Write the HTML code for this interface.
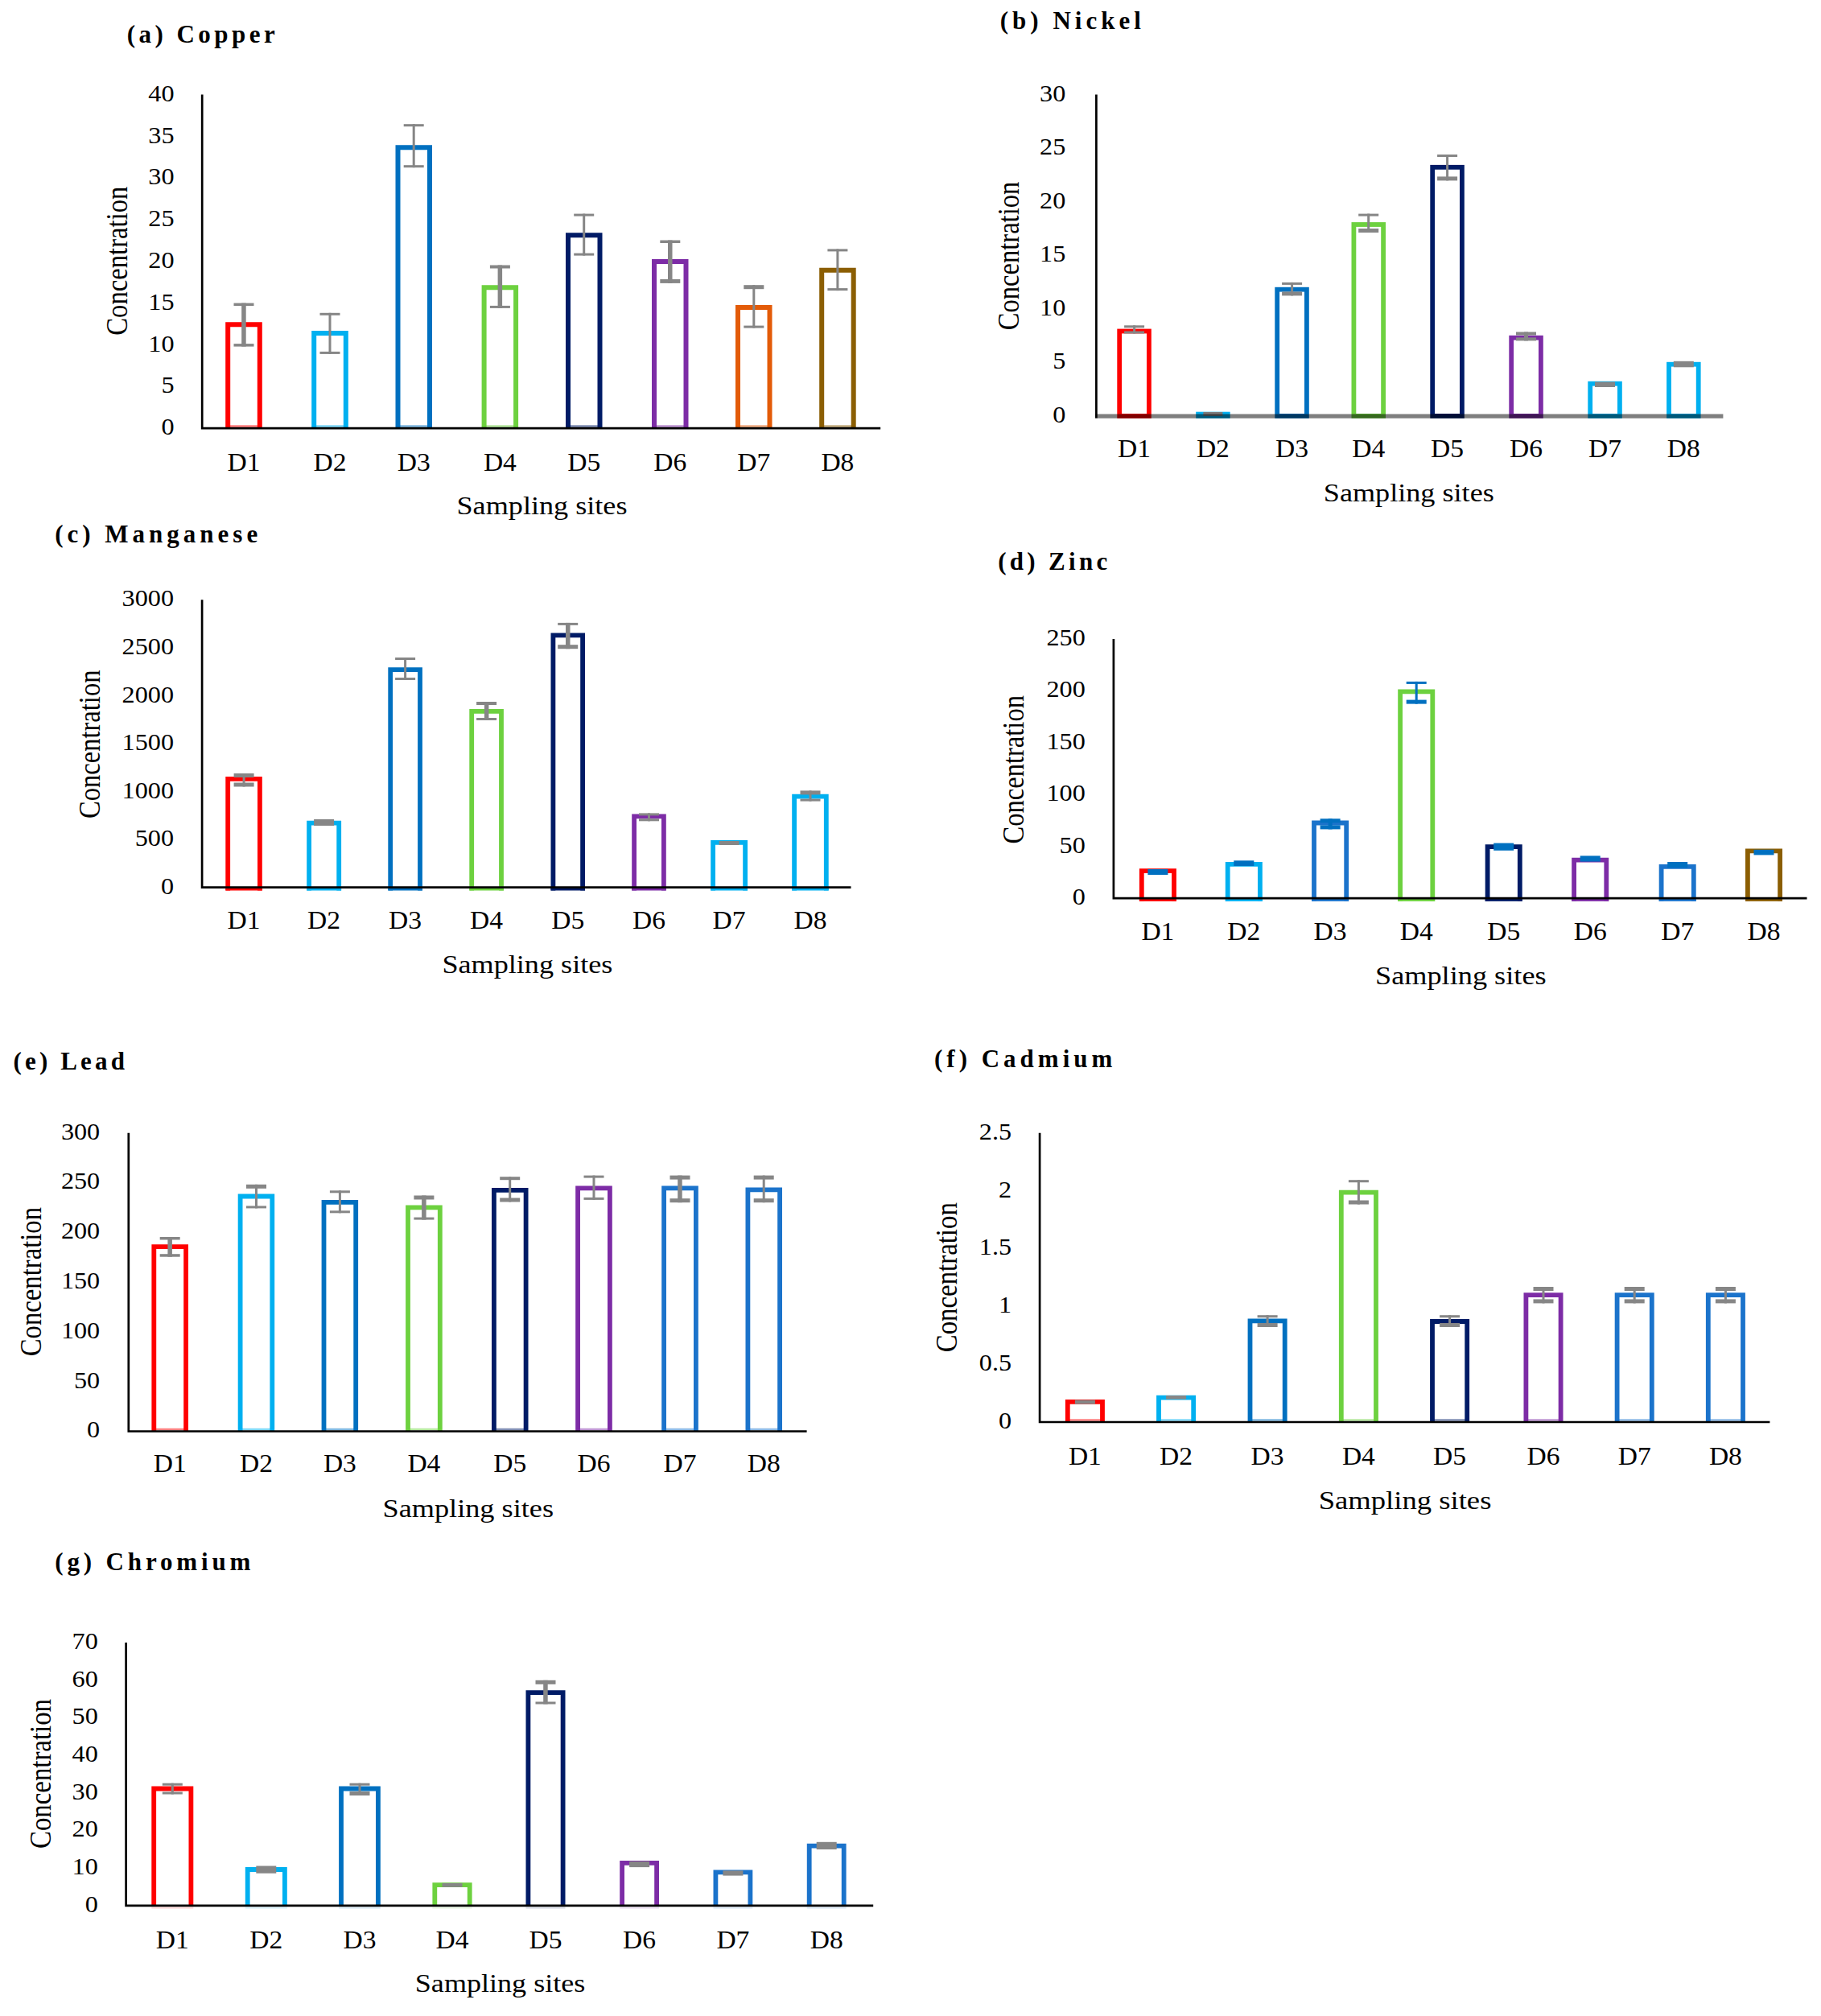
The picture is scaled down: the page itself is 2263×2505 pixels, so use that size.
<!DOCTYPE html>
<html lang="en"><head><meta charset="utf-8"><title>Heavy metal concentration at sampling sites</title>
<style>html,body{margin:0;padding:0;background:#fff}body{width:2263px;height:2505px;overflow:hidden}svg{display:block}text{font-family:"Liberation Serif","DejaVu Serif",serif;fill:#000}.t{font-weight:bold;font-size:31px}.k{font-size:28.5px;text-anchor:end}.K{font-size:30px}.x{font-size:31px;text-anchor:middle}.a{font-size:31px}.r{font-size:37px}</style></head><body>
<svg width="2263" height="2505" viewBox="0 0 2263 2505">
<rect width="2263" height="2505" fill="#fff"/>
<g>
<text class="t" x="157.7" y="53.4" textLength="184" lengthAdjust="spacing">(a) Copper</text>
<path d="M283.2 532.1V403.3H322.8V532.1" fill="none" stroke="#FF0000" stroke-width="6"/>
<line x1="283.2" y1="529.6" x2="322.8" y2="529.6" stroke="#FF0000" stroke-opacity="0.5" stroke-width="2.6"/>
<path d="M390.2 532.1V413.9H429.8V532.1" fill="none" stroke="#00B0F0" stroke-width="6"/>
<line x1="390.2" y1="529.6" x2="429.8" y2="529.6" stroke="#00B0F0" stroke-opacity="0.5" stroke-width="2.6"/>
<path d="M494.5 532.1V183.2H534V532.1" fill="none" stroke="#0070C0" stroke-width="6"/>
<line x1="494.5" y1="529.6" x2="534" y2="529.6" stroke="#0070C0" stroke-opacity="0.5" stroke-width="2.6"/>
<path d="M601.6 532.1V357.2H641.1V532.1" fill="none" stroke="#6DD13F" stroke-width="6"/>
<line x1="601.6" y1="529.6" x2="641.1" y2="529.6" stroke="#6DD13F" stroke-opacity="0.5" stroke-width="2.6"/>
<path d="M706 532.1V292.3H745.5V532.1" fill="none" stroke="#001B66" stroke-width="6"/>
<line x1="706" y1="529.6" x2="745.5" y2="529.6" stroke="#001B66" stroke-opacity="0.5" stroke-width="2.6"/>
<path d="M813 532.1V324.9H852.5V532.1" fill="none" stroke="#7D2CA6" stroke-width="6"/>
<line x1="813" y1="529.6" x2="852.5" y2="529.6" stroke="#7D2CA6" stroke-opacity="0.5" stroke-width="2.6"/>
<path d="M917 532.1V381.9H956.5V532.1" fill="none" stroke="#E35B08" stroke-width="6"/>
<line x1="917" y1="529.6" x2="956.5" y2="529.6" stroke="#E35B08" stroke-opacity="0.5" stroke-width="2.6"/>
<path d="M1021.2 532.1V335.8H1060.7V532.1" fill="none" stroke="#8B5E03" stroke-width="6"/>
<line x1="1021.2" y1="529.6" x2="1060.7" y2="529.6" stroke="#8B5E03" stroke-opacity="0.5" stroke-width="2.6"/>
<path d="M251.2 117.6V532.1H1094.2" fill="none" stroke="#000" stroke-width="2.7"/>
<rect x="300.2" y="376.6" width="5.5" height="54" fill="#868686"/>
<rect x="290.5" y="376.6" width="25" height="3.5" fill="#868686"/>
<rect x="290.5" y="427.1" width="25" height="3.5" fill="#868686"/>
<rect x="408.5" y="388.8" width="3" height="51.1" fill="#868686"/>
<rect x="397.5" y="388.8" width="25" height="3" fill="#868686"/>
<rect x="397.5" y="436.9" width="25" height="3" fill="#868686"/>
<rect x="512.7" y="154.2" width="3" height="54" fill="#868686"/>
<rect x="501.7" y="154.2" width="25" height="3" fill="#868686"/>
<rect x="501.7" y="205.2" width="25" height="3" fill="#868686"/>
<rect x="618.6" y="329.5" width="5.5" height="53.4" fill="#868686"/>
<rect x="608.9" y="329.5" width="25" height="4" fill="#868686"/>
<rect x="608.9" y="379.9" width="25" height="3" fill="#868686"/>
<rect x="724.2" y="265.6" width="3" height="52" fill="#868686"/>
<rect x="713.2" y="265.6" width="25" height="3" fill="#868686"/>
<rect x="713.2" y="314.6" width="25" height="3" fill="#868686"/>
<rect x="830" y="298.5" width="5.5" height="53.4" fill="#868686"/>
<rect x="820.3" y="298.5" width="25" height="3.5" fill="#868686"/>
<rect x="820.3" y="346.9" width="25" height="5" fill="#868686"/>
<rect x="935.3" y="354.2" width="3" height="53.4" fill="#868686"/>
<rect x="924.3" y="354.2" width="25" height="5" fill="#868686"/>
<rect x="924.3" y="404.6" width="25" height="3" fill="#868686"/>
<rect x="1039.4" y="309.4" width="3" height="51.7" fill="#868686"/>
<rect x="1028.4" y="309.4" width="25" height="3" fill="#868686"/>
<rect x="1028.4" y="358.1" width="25" height="3" fill="#868686"/>
<text class="k" x="216.5" y="540.2" textLength="16.1" lengthAdjust="spacingAndGlyphs">0</text>
<text class="k" x="216.5" y="488.4" textLength="16.1" lengthAdjust="spacingAndGlyphs">5</text>
<text class="k" x="216.5" y="436.6" textLength="32.2" lengthAdjust="spacingAndGlyphs">10</text>
<text class="k" x="216.5" y="384.8" textLength="32.2" lengthAdjust="spacingAndGlyphs">15</text>
<text class="k" x="216.5" y="333" textLength="32.2" lengthAdjust="spacingAndGlyphs">20</text>
<text class="k" x="216.5" y="281.1" textLength="32.2" lengthAdjust="spacingAndGlyphs">25</text>
<text class="k" x="216.5" y="229.3" textLength="32.2" lengthAdjust="spacingAndGlyphs">30</text>
<text class="k" x="216.5" y="177.5" textLength="32.2" lengthAdjust="spacingAndGlyphs">35</text>
<text class="k" x="216.5" y="125.7" textLength="32.2" lengthAdjust="spacingAndGlyphs">40</text>
<text class="x" x="303" y="584.8" textLength="41" lengthAdjust="spacingAndGlyphs">D1</text>
<text class="x" x="410" y="584.8" textLength="41" lengthAdjust="spacingAndGlyphs">D2</text>
<text class="x" x="514.2" y="584.8" textLength="41" lengthAdjust="spacingAndGlyphs">D3</text>
<text class="x" x="621.4" y="584.8" textLength="41" lengthAdjust="spacingAndGlyphs">D4</text>
<text class="x" x="725.7" y="584.8" textLength="41" lengthAdjust="spacingAndGlyphs">D5</text>
<text class="x" x="832.8" y="584.8" textLength="41" lengthAdjust="spacingAndGlyphs">D6</text>
<text class="x" x="936.8" y="584.8" textLength="41" lengthAdjust="spacingAndGlyphs">D7</text>
<text class="x" x="1040.9" y="584.8" textLength="41" lengthAdjust="spacingAndGlyphs">D8</text>
<text class="a" x="567.5" y="638.8" textLength="212" lengthAdjust="spacingAndGlyphs">Sampling sites</text>
<text class="r" text-anchor="middle" transform="translate(158 324.2) rotate(-90)" x="0" y="0" textLength="185" lengthAdjust="spacingAndGlyphs">Concentration</text>
</g>
<g>
<text class="t" x="1242.8" y="36.2" textLength="175" lengthAdjust="spacing">(b) Nickel</text>
<line x1="1362.4" y1="117.6" x2="1362.4" y2="519.6" stroke="#000" stroke-width="2.7"/>
<rect x="1391.2" y="411.5" width="36.7" height="105.4" fill="none" stroke="#FF0000" stroke-width="5.8"/>
<rect x="1489.1" y="514.6" width="36.7" height="2.3" fill="none" stroke="#00B0F0" stroke-width="5.8"/>
<rect x="1587.2" y="359.7" width="36.7" height="157.2" fill="none" stroke="#0070C0" stroke-width="5.8"/>
<rect x="1682.4" y="279" width="36.7" height="237.9" fill="none" stroke="#6DD13F" stroke-width="5.8"/>
<rect x="1780.2" y="207.8" width="36.7" height="309.1" fill="none" stroke="#001B66" stroke-width="5.8"/>
<rect x="1878.2" y="419.7" width="36.7" height="97.2" fill="none" stroke="#7D2CA6" stroke-width="5.8"/>
<rect x="1976.2" y="476.7" width="36.7" height="40.2" fill="none" stroke="#00B0F0" stroke-width="5.8"/>
<rect x="2074" y="452.7" width="36.7" height="64.2" fill="none" stroke="#00B0F0" stroke-width="5.8"/>
<rect x="1408.1" y="404.3" width="3" height="10.2" fill="#868686"/>
<rect x="1397.1" y="404.3" width="25" height="3" fill="#868686"/>
<rect x="1397.1" y="411.5" width="25" height="3" fill="#868686"/>
<rect x="1495.4" y="512" width="24" height="4.8" fill="#7a7a7a"/>
<rect x="1604.1" y="350.9" width="3" height="16.5" fill="#868686"/>
<rect x="1593.1" y="350.9" width="25" height="3" fill="#868686"/>
<rect x="1593.1" y="362.4" width="25" height="5" fill="#868686"/>
<rect x="1699.2" y="265.6" width="3" height="23.4" fill="#868686"/>
<rect x="1688.2" y="265.6" width="25" height="3" fill="#868686"/>
<rect x="1688.2" y="284" width="25" height="5" fill="#868686"/>
<rect x="1797.1" y="192" width="3" height="32.4" fill="#868686"/>
<rect x="1786.1" y="192" width="25" height="3" fill="#868686"/>
<rect x="1786.1" y="219.4" width="25" height="5" fill="#868686"/>
<rect x="1894" y="412.5" width="5" height="10.9" fill="#868686"/>
<rect x="1884" y="412.5" width="25" height="4" fill="#868686"/>
<rect x="1884" y="419.4" width="25" height="4" fill="#868686"/>
<rect x="1982" y="474.5" width="25" height="6.5" fill="#868686"/>
<rect x="2079.8" y="448.8" width="25" height="7.5" fill="#868686"/>
<line x1="1361.1" y1="517.2" x2="2141.4" y2="517.2" stroke="#000" stroke-opacity="0.5" stroke-width="5.3"/>
<text class="k" x="1324.3" y="524.7" textLength="16.1" lengthAdjust="spacingAndGlyphs">0</text>
<text class="k" x="1324.3" y="458.2" textLength="16.1" lengthAdjust="spacingAndGlyphs">5</text>
<text class="k" x="1324.3" y="391.7" textLength="32.2" lengthAdjust="spacingAndGlyphs">10</text>
<text class="k" x="1324.3" y="325.2" textLength="32.2" lengthAdjust="spacingAndGlyphs">15</text>
<text class="k" x="1324.3" y="258.7" textLength="32.2" lengthAdjust="spacingAndGlyphs">20</text>
<text class="k" x="1324.3" y="192.2" textLength="32.2" lengthAdjust="spacingAndGlyphs">25</text>
<text class="k" x="1324.3" y="125.7" textLength="32.2" lengthAdjust="spacingAndGlyphs">30</text>
<text class="x" x="1409.6" y="568.4" textLength="41" lengthAdjust="spacingAndGlyphs">D1</text>
<text class="x" x="1507.4" y="568.4" textLength="41" lengthAdjust="spacingAndGlyphs">D2</text>
<text class="x" x="1605.6" y="568.4" textLength="41" lengthAdjust="spacingAndGlyphs">D3</text>
<text class="x" x="1700.7" y="568.4" textLength="41" lengthAdjust="spacingAndGlyphs">D4</text>
<text class="x" x="1798.6" y="568.4" textLength="41" lengthAdjust="spacingAndGlyphs">D5</text>
<text class="x" x="1896.5" y="568.4" textLength="41" lengthAdjust="spacingAndGlyphs">D6</text>
<text class="x" x="1994.5" y="568.4" textLength="41" lengthAdjust="spacingAndGlyphs">D7</text>
<text class="x" x="2092.3" y="568.4" textLength="41" lengthAdjust="spacingAndGlyphs">D8</text>
<text class="a" x="1644.8" y="623.1" textLength="212" lengthAdjust="spacingAndGlyphs">Sampling sites</text>
<text class="r" text-anchor="middle" transform="translate(1266 318) rotate(-90)" x="0" y="0" textLength="184.5" lengthAdjust="spacingAndGlyphs">Concentration</text>
</g>
<g>
<text class="t" x="68.2" y="674.4" textLength="252" lengthAdjust="spacing">(c) Manganese</text>
<path d="M283.2 1106.5V967.9H322.9V1106.5" fill="none" stroke="#FF0000" stroke-width="5.8"/>
<rect x="280.4" y="1102.7" width="45.5" height="3.8" fill="#FF0000"/>
<path d="M384.1 1106.5V1022.6H421.2V1106.5" fill="none" stroke="#00B0F0" stroke-width="5.8"/>
<rect x="381.2" y="1102.7" width="42.9" height="3.8" fill="#00B0F0"/>
<path d="M485.2 1106.5V832.1H522V1106.5" fill="none" stroke="#0070C0" stroke-width="5.8"/>
<rect x="482.4" y="1102.7" width="42.5" height="3.8" fill="#0070C0"/>
<path d="M586.2 1106.5V883.9H623V1106.5" fill="none" stroke="#6DD13F" stroke-width="5.8"/>
<rect x="583.4" y="1102.7" width="42.5" height="3.8" fill="#6DD13F"/>
<path d="M687.4 1106.5V789.3H724.1V1106.5" fill="none" stroke="#001B66" stroke-width="5.8"/>
<rect x="684.5" y="1102.7" width="42.5" height="3.8" fill="#001B66"/>
<path d="M788.1 1106.5V1014.3H824.9V1106.5" fill="none" stroke="#7D2CA6" stroke-width="5.8"/>
<rect x="785.2" y="1102.7" width="42.5" height="3.8" fill="#7D2CA6"/>
<path d="M886.1 1106.5V1046.9H926.1V1106.5" fill="none" stroke="#00B0F0" stroke-width="5.8"/>
<rect x="883.2" y="1102.7" width="45.8" height="3.8" fill="#00B0F0"/>
<path d="M987.1 1106.5V989.6H1026.8V1106.5" fill="none" stroke="#00B0F0" stroke-width="5.8"/>
<rect x="984.2" y="1102.7" width="45.5" height="3.8" fill="#00B0F0"/>
<path d="M251.1 745.2V1102.7H1057.5" fill="none" stroke="#000" stroke-width="2.7"/>
<rect x="301.6" y="961" width="3" height="16.5" fill="#868686"/>
<rect x="290.6" y="961" width="25" height="5" fill="#868686"/>
<rect x="290.6" y="972.5" width="25" height="5" fill="#868686"/>
<rect x="390.1" y="1018" width="25" height="8" fill="#868686"/>
<rect x="502.1" y="817" width="3" height="28" fill="#868686"/>
<rect x="491.1" y="817" width="25" height="3" fill="#868686"/>
<rect x="491.1" y="842" width="25" height="3" fill="#868686"/>
<rect x="601.9" y="872" width="5.5" height="23" fill="#868686"/>
<rect x="592.1" y="872" width="25" height="4" fill="#868686"/>
<rect x="592.1" y="892" width="25" height="3" fill="#868686"/>
<rect x="703" y="773.9" width="5.5" height="32.3" fill="#868686"/>
<rect x="693.2" y="773.9" width="25" height="3" fill="#868686"/>
<rect x="693.2" y="801.2" width="25" height="5" fill="#868686"/>
<rect x="805" y="1010.4" width="3" height="9.9" fill="#868686"/>
<rect x="794" y="1010.4" width="25" height="3" fill="#868686"/>
<rect x="794" y="1017.3" width="25" height="3" fill="#868686"/>
<rect x="893.6" y="1045" width="25" height="5" fill="#868686"/>
<rect x="1005.5" y="982.4" width="3" height="13.2" fill="#868686"/>
<rect x="994.5" y="982.4" width="25" height="5" fill="#868686"/>
<rect x="994.5" y="992.6" width="25" height="3" fill="#868686"/>
<text class="k" x="216" y="1110.8" textLength="16.1" lengthAdjust="spacingAndGlyphs">0</text>
<text class="k" x="216" y="1051.2" textLength="48.3" lengthAdjust="spacingAndGlyphs">500</text>
<text class="k" x="216" y="991.6" textLength="64.4" lengthAdjust="spacingAndGlyphs">1000</text>
<text class="k" x="216" y="932.1" textLength="64.4" lengthAdjust="spacingAndGlyphs">1500</text>
<text class="k" x="216" y="872.5" textLength="64.4" lengthAdjust="spacingAndGlyphs">2000</text>
<text class="k" x="216" y="812.9" textLength="64.4" lengthAdjust="spacingAndGlyphs">2500</text>
<text class="k" x="216" y="753.3" textLength="64.4" lengthAdjust="spacingAndGlyphs">3000</text>
<text class="x" x="303.1" y="1154.4" textLength="41" lengthAdjust="spacingAndGlyphs">D1</text>
<text class="x" x="402.6" y="1154.4" textLength="41" lengthAdjust="spacingAndGlyphs">D2</text>
<text class="x" x="503.6" y="1154.4" textLength="41" lengthAdjust="spacingAndGlyphs">D3</text>
<text class="x" x="604.6" y="1154.4" textLength="41" lengthAdjust="spacingAndGlyphs">D4</text>
<text class="x" x="705.7" y="1154.4" textLength="41" lengthAdjust="spacingAndGlyphs">D5</text>
<text class="x" x="806.5" y="1154.4" textLength="41" lengthAdjust="spacingAndGlyphs">D6</text>
<text class="x" x="906.1" y="1154.4" textLength="41" lengthAdjust="spacingAndGlyphs">D7</text>
<text class="x" x="1007" y="1154.4" textLength="41" lengthAdjust="spacingAndGlyphs">D8</text>
<text class="a" x="549.4" y="1208.8" textLength="212" lengthAdjust="spacingAndGlyphs">Sampling sites</text>
<text class="r" text-anchor="middle" transform="translate(124.2 924.8) rotate(-90)" x="0" y="0" textLength="184.5" lengthAdjust="spacingAndGlyphs">Concentration</text>
</g>
<g>
<text class="t" x="1240.2" y="707.5" textLength="136" lengthAdjust="spacing">(d) Zinc</text>
<path d="M1418.8 1119.9V1082.1H1459V1119.9" fill="none" stroke="#FF0000" stroke-width="5.8"/>
<rect x="1415.9" y="1116.1" width="46" height="3.8" fill="#FF0000"/>
<path d="M1525.7 1119.9V1073.9H1565.9V1119.9" fill="none" stroke="#00B0F0" stroke-width="5.8"/>
<rect x="1522.8" y="1116.1" width="46" height="3.8" fill="#00B0F0"/>
<path d="M1633 1119.9V1022.5H1673.2V1119.9" fill="none" stroke="#1B73CB" stroke-width="5.8"/>
<rect x="1630.1" y="1116.1" width="46" height="3.8" fill="#1B73CB"/>
<path d="M1740.1 1119.9V859.4H1780.3V1119.9" fill="none" stroke="#6DD13F" stroke-width="5.8"/>
<rect x="1737.2" y="1116.1" width="46" height="3.8" fill="#6DD13F"/>
<path d="M1848.6 1119.9V1052.1H1888.8V1119.9" fill="none" stroke="#001B66" stroke-width="5.8"/>
<rect x="1845.7" y="1116.1" width="46" height="3.8" fill="#001B66"/>
<path d="M1956.1 1119.9V1068.6H1996.3V1119.9" fill="none" stroke="#7D2CA6" stroke-width="5.8"/>
<rect x="1953.2" y="1116.1" width="46" height="3.8" fill="#7D2CA6"/>
<path d="M2064.6 1119.9V1076.8H2104.8V1119.9" fill="none" stroke="#1B73CB" stroke-width="5.8"/>
<rect x="2061.7" y="1116.1" width="46" height="3.8" fill="#1B73CB"/>
<path d="M2171.9 1119.9V1057.4H2212.1V1119.9" fill="none" stroke="#8B5E03" stroke-width="5.8"/>
<rect x="2169" y="1116.1" width="46" height="3.8" fill="#8B5E03"/>
<path d="M1383.9 793.9V1116.1H2245.5" fill="none" stroke="#000" stroke-width="2.7"/>
<rect x="1426.4" y="1080" width="25" height="7" fill="#0070C0"/>
<rect x="1533.3" y="1069.3" width="25" height="6.7" fill="#0070C0"/>
<rect x="1650.6" y="1017.3" width="5" height="13.1" fill="#0070C0"/>
<rect x="1640.6" y="1017.3" width="25" height="5" fill="#0070C0"/>
<rect x="1640.6" y="1025.4" width="25" height="5" fill="#0070C0"/>
<rect x="1758.7" y="846.9" width="3" height="27.7" fill="#0070C0"/>
<rect x="1747.7" y="846.9" width="25" height="3" fill="#0070C0"/>
<rect x="1747.7" y="869.6" width="25" height="5" fill="#0070C0"/>
<rect x="1856.2" y="1047.6" width="25" height="9.2" fill="#0070C0"/>
<rect x="1963.7" y="1063.4" width="25" height="7.2" fill="#0070C0"/>
<rect x="2072.2" y="1071" width="25" height="7.2" fill="#0070C0"/>
<rect x="2179.5" y="1055.8" width="25" height="6.6" fill="#0070C0"/>
<text class="k" x="1348.8" y="1124.2" textLength="16.1" lengthAdjust="spacingAndGlyphs">0</text>
<text class="k" x="1348.8" y="1059.8" textLength="32.2" lengthAdjust="spacingAndGlyphs">50</text>
<text class="k" x="1348.8" y="995.3" textLength="48.3" lengthAdjust="spacingAndGlyphs">100</text>
<text class="k" x="1348.8" y="930.9" textLength="48.3" lengthAdjust="spacingAndGlyphs">150</text>
<text class="k" x="1348.8" y="866.4" textLength="48.3" lengthAdjust="spacingAndGlyphs">200</text>
<text class="k" x="1348.8" y="802" textLength="48.3" lengthAdjust="spacingAndGlyphs">250</text>
<text class="x" x="1438.9" y="1168.2" textLength="41" lengthAdjust="spacingAndGlyphs">D1</text>
<text class="x" x="1545.8" y="1168.2" textLength="41" lengthAdjust="spacingAndGlyphs">D2</text>
<text class="x" x="1653.1" y="1168.2" textLength="41" lengthAdjust="spacingAndGlyphs">D3</text>
<text class="x" x="1760.2" y="1168.2" textLength="41" lengthAdjust="spacingAndGlyphs">D4</text>
<text class="x" x="1868.7" y="1168.2" textLength="41" lengthAdjust="spacingAndGlyphs">D5</text>
<text class="x" x="1976.2" y="1168.2" textLength="41" lengthAdjust="spacingAndGlyphs">D6</text>
<text class="x" x="2084.7" y="1168.2" textLength="41" lengthAdjust="spacingAndGlyphs">D7</text>
<text class="x" x="2192" y="1168.2" textLength="41" lengthAdjust="spacingAndGlyphs">D8</text>
<text class="a" x="1709" y="1223.2" textLength="212.6" lengthAdjust="spacingAndGlyphs">Sampling sites</text>
<text class="r" text-anchor="middle" transform="translate(1272 956.3) rotate(-90)" x="0" y="0" textLength="184.5" lengthAdjust="spacingAndGlyphs">Concentration</text>
</g>
<g>
<text class="t" x="16.5" y="1329.4" textLength="138.4" lengthAdjust="spacing">(e) Lead</text>
<path d="M191.3 1778.5V1549.1H231.1V1778.5" fill="none" stroke="#FF0000" stroke-width="5.8"/>
<line x1="191.3" y1="1776" x2="231.1" y2="1776" stroke="#FF0000" stroke-opacity="0.5" stroke-width="2.6"/>
<path d="M298.6 1778.5V1486.5H338.3V1778.5" fill="none" stroke="#00B0F0" stroke-width="5.8"/>
<line x1="298.6" y1="1776" x2="338.3" y2="1776" stroke="#00B0F0" stroke-opacity="0.5" stroke-width="2.6"/>
<path d="M402.5 1778.5V1493.8H442.2V1778.5" fill="none" stroke="#0070C0" stroke-width="5.8"/>
<line x1="402.5" y1="1776" x2="442.2" y2="1776" stroke="#0070C0" stroke-opacity="0.5" stroke-width="2.6"/>
<path d="M507 1778.5V1500.4H546.8V1778.5" fill="none" stroke="#6DD13F" stroke-width="5.8"/>
<line x1="507" y1="1776" x2="546.8" y2="1776" stroke="#6DD13F" stroke-opacity="0.5" stroke-width="2.6"/>
<path d="M613.9 1778.5V1478.9H653.6V1778.5" fill="none" stroke="#001B66" stroke-width="5.8"/>
<line x1="613.9" y1="1776" x2="653.6" y2="1776" stroke="#001B66" stroke-opacity="0.5" stroke-width="2.6"/>
<path d="M718.1 1778.5V1476.3H757.9V1778.5" fill="none" stroke="#7D2CA6" stroke-width="5.8"/>
<line x1="718.1" y1="1776" x2="757.9" y2="1776" stroke="#7D2CA6" stroke-opacity="0.5" stroke-width="2.6"/>
<path d="M825.1 1778.5V1476.3H864.9V1778.5" fill="none" stroke="#1B73CB" stroke-width="5.8"/>
<line x1="825.1" y1="1776" x2="864.9" y2="1776" stroke="#1B73CB" stroke-opacity="0.5" stroke-width="2.6"/>
<path d="M929.4 1778.5V1478.3H969.1V1778.5" fill="none" stroke="#1B73CB" stroke-width="5.8"/>
<line x1="929.4" y1="1776" x2="969.1" y2="1776" stroke="#1B73CB" stroke-opacity="0.5" stroke-width="2.6"/>
<path d="M159.8 1407.8V1778.5H1002.6" fill="none" stroke="#000" stroke-width="2.7"/>
<rect x="208.4" y="1537" width="5.5" height="24.7" fill="#868686"/>
<rect x="198.7" y="1537" width="25" height="3.5" fill="#868686"/>
<rect x="198.7" y="1558.2" width="25" height="3.5" fill="#868686"/>
<rect x="317" y="1471.8" width="3" height="29.6" fill="#868686"/>
<rect x="306" y="1471.8" width="25" height="5" fill="#868686"/>
<rect x="306" y="1498.4" width="25" height="3" fill="#868686"/>
<rect x="420.9" y="1479.3" width="3" height="28" fill="#868686"/>
<rect x="409.9" y="1479.3" width="25" height="3" fill="#868686"/>
<rect x="409.9" y="1504.3" width="25" height="3" fill="#868686"/>
<rect x="524.1" y="1485.5" width="5.5" height="30.1" fill="#868686"/>
<rect x="514.4" y="1485.5" width="25" height="5" fill="#868686"/>
<rect x="514.4" y="1512.6" width="25" height="3" fill="#868686"/>
<rect x="632.2" y="1462.2" width="3" height="31.3" fill="#868686"/>
<rect x="621.2" y="1462.2" width="25" height="4" fill="#868686"/>
<rect x="621.2" y="1488.5" width="25" height="5" fill="#868686"/>
<rect x="736.5" y="1460.6" width="3" height="30.3" fill="#868686"/>
<rect x="725.5" y="1460.6" width="25" height="3" fill="#868686"/>
<rect x="725.5" y="1487.9" width="25" height="3" fill="#868686"/>
<rect x="842.2" y="1460.6" width="5.5" height="33.6" fill="#868686"/>
<rect x="832.5" y="1460.6" width="25" height="5" fill="#868686"/>
<rect x="832.5" y="1489.2" width="25" height="5" fill="#868686"/>
<rect x="947.7" y="1460.6" width="3" height="33.6" fill="#868686"/>
<rect x="936.7" y="1460.6" width="25" height="5" fill="#868686"/>
<rect x="936.7" y="1489.2" width="25" height="5" fill="#868686"/>
<text class="k K" x="124.2" y="1786.3" textLength="16.1" lengthAdjust="spacingAndGlyphs">0</text>
<text class="k K" x="124.2" y="1724.6" textLength="32.2" lengthAdjust="spacingAndGlyphs">50</text>
<text class="k K" x="124.2" y="1662.8" textLength="48.3" lengthAdjust="spacingAndGlyphs">100</text>
<text class="k K" x="124.2" y="1601" textLength="48.3" lengthAdjust="spacingAndGlyphs">150</text>
<text class="k K" x="124.2" y="1539.2" textLength="48.3" lengthAdjust="spacingAndGlyphs">200</text>
<text class="k K" x="124.2" y="1477.4" textLength="48.3" lengthAdjust="spacingAndGlyphs">250</text>
<text class="k K" x="124.2" y="1415.6" textLength="48.3" lengthAdjust="spacingAndGlyphs">300</text>
<text class="x" x="211.2" y="1828.6" textLength="41" lengthAdjust="spacingAndGlyphs">D1</text>
<text class="x" x="318.5" y="1828.6" textLength="41" lengthAdjust="spacingAndGlyphs">D2</text>
<text class="x" x="422.4" y="1828.6" textLength="41" lengthAdjust="spacingAndGlyphs">D3</text>
<text class="x" x="526.9" y="1828.6" textLength="41" lengthAdjust="spacingAndGlyphs">D4</text>
<text class="x" x="633.7" y="1828.6" textLength="41" lengthAdjust="spacingAndGlyphs">D5</text>
<text class="x" x="738" y="1828.6" textLength="41" lengthAdjust="spacingAndGlyphs">D6</text>
<text class="x" x="845" y="1828.6" textLength="41" lengthAdjust="spacingAndGlyphs">D7</text>
<text class="x" x="949.2" y="1828.6" textLength="41" lengthAdjust="spacingAndGlyphs">D8</text>
<text class="a" x="475.5" y="1885.3" textLength="212.5" lengthAdjust="spacingAndGlyphs">Sampling sites</text>
<text class="r" text-anchor="middle" transform="translate(50.9 1592.6) rotate(-90)" x="0" y="0" textLength="185.3" lengthAdjust="spacingAndGlyphs">Concentration</text>
</g>
<g>
<text class="t" x="1161" y="1326.1" textLength="221.4" lengthAdjust="spacing">(f) Cadmium</text>
<path d="M1326.8 1767V1741.9H1370V1767" fill="none" stroke="#FF0000" stroke-width="5.8"/>
<line x1="1326.8" y1="1764.5" x2="1370" y2="1764.5" stroke="#FF0000" stroke-opacity="0.5" stroke-width="2.6"/>
<path d="M1440 1767V1736.6H1483.2V1767" fill="none" stroke="#00B0F0" stroke-width="5.8"/>
<line x1="1440" y1="1764.5" x2="1483.2" y2="1764.5" stroke="#00B0F0" stroke-opacity="0.5" stroke-width="2.6"/>
<path d="M1553.5 1767V1641.4H1596.7V1767" fill="none" stroke="#0070C0" stroke-width="5.8"/>
<line x1="1553.5" y1="1764.5" x2="1596.7" y2="1764.5" stroke="#0070C0" stroke-opacity="0.5" stroke-width="2.6"/>
<path d="M1666.8 1767V1481.6H1710V1767" fill="none" stroke="#6DD13F" stroke-width="5.8"/>
<line x1="1666.8" y1="1764.5" x2="1710" y2="1764.5" stroke="#6DD13F" stroke-opacity="0.5" stroke-width="2.6"/>
<path d="M1780 1767V1642H1823.2V1767" fill="none" stroke="#001B66" stroke-width="5.8"/>
<line x1="1780" y1="1764.5" x2="1823.2" y2="1764.5" stroke="#001B66" stroke-opacity="0.5" stroke-width="2.6"/>
<path d="M1896.4 1767V1609.1H1939.6V1767" fill="none" stroke="#7D2CA6" stroke-width="5.8"/>
<line x1="1896.4" y1="1764.5" x2="1939.6" y2="1764.5" stroke="#7D2CA6" stroke-opacity="0.5" stroke-width="2.6"/>
<path d="M2009.6 1767V1609.1H2052.8V1767" fill="none" stroke="#1B73CB" stroke-width="5.8"/>
<line x1="2009.6" y1="1764.5" x2="2052.8" y2="1764.5" stroke="#1B73CB" stroke-opacity="0.5" stroke-width="2.6"/>
<path d="M2122.8 1767V1609.1H2166V1767" fill="none" stroke="#1B73CB" stroke-width="5.8"/>
<line x1="2122.8" y1="1764.5" x2="2166" y2="1764.5" stroke="#1B73CB" stroke-opacity="0.5" stroke-width="2.6"/>
<path d="M1292.1 1407.8V1767H2199.4" fill="none" stroke="#000" stroke-width="2.7"/>
<rect x="1335.9" y="1739.6" width="25" height="5" fill="#868686"/>
<rect x="1449.1" y="1734" width="25" height="4.6" fill="#868686"/>
<rect x="1573.6" y="1634.2" width="3" height="14.8" fill="#868686"/>
<rect x="1562.6" y="1634.2" width="25" height="3" fill="#868686"/>
<rect x="1562.6" y="1644" width="25" height="5" fill="#868686"/>
<rect x="1686.9" y="1466.2" width="3" height="30.3" fill="#868686"/>
<rect x="1675.9" y="1466.2" width="25" height="3" fill="#868686"/>
<rect x="1675.9" y="1491.5" width="25" height="5" fill="#868686"/>
<rect x="1800.1" y="1634.2" width="3" height="14.8" fill="#868686"/>
<rect x="1789.1" y="1634.2" width="25" height="3" fill="#868686"/>
<rect x="1789.1" y="1644" width="25" height="5" fill="#868686"/>
<rect x="1916.5" y="1599" width="3" height="20.4" fill="#868686"/>
<rect x="1905.5" y="1599" width="25" height="5" fill="#868686"/>
<rect x="1905.5" y="1614.4" width="25" height="5" fill="#868686"/>
<rect x="2029.7" y="1599" width="3" height="20.4" fill="#868686"/>
<rect x="2018.7" y="1599" width="25" height="5" fill="#868686"/>
<rect x="2018.7" y="1614.4" width="25" height="5" fill="#868686"/>
<rect x="2142.9" y="1599" width="3" height="20.4" fill="#868686"/>
<rect x="2131.9" y="1599" width="25" height="5" fill="#868686"/>
<rect x="2131.9" y="1614.4" width="25" height="5" fill="#868686"/>
<text class="k K" x="1257" y="1774.8" textLength="16.1" lengthAdjust="spacingAndGlyphs">0</text>
<text class="k K" x="1257" y="1703" textLength="40.2" lengthAdjust="spacingAndGlyphs">0.5</text>
<text class="k K" x="1257" y="1631.2" textLength="16.1" lengthAdjust="spacingAndGlyphs">1</text>
<text class="k K" x="1257" y="1559.3" textLength="40.2" lengthAdjust="spacingAndGlyphs">1.5</text>
<text class="k K" x="1257" y="1487.5" textLength="16.1" lengthAdjust="spacingAndGlyphs">2</text>
<text class="k K" x="1257" y="1415.6" textLength="40.2" lengthAdjust="spacingAndGlyphs">2.5</text>
<text class="x" x="1348.4" y="1820.4" textLength="41" lengthAdjust="spacingAndGlyphs">D1</text>
<text class="x" x="1461.6" y="1820.4" textLength="41" lengthAdjust="spacingAndGlyphs">D2</text>
<text class="x" x="1575.1" y="1820.4" textLength="41" lengthAdjust="spacingAndGlyphs">D3</text>
<text class="x" x="1688.4" y="1820.4" textLength="41" lengthAdjust="spacingAndGlyphs">D4</text>
<text class="x" x="1801.6" y="1820.4" textLength="41" lengthAdjust="spacingAndGlyphs">D5</text>
<text class="x" x="1918" y="1820.4" textLength="41" lengthAdjust="spacingAndGlyphs">D6</text>
<text class="x" x="2031.2" y="1820.4" textLength="41" lengthAdjust="spacingAndGlyphs">D7</text>
<text class="x" x="2144.4" y="1820.4" textLength="41" lengthAdjust="spacingAndGlyphs">D8</text>
<text class="a" x="1638.7" y="1874.7" textLength="214.7" lengthAdjust="spacingAndGlyphs">Sampling sites</text>
<text class="r" text-anchor="middle" transform="translate(1189.4 1587.2) rotate(-90)" x="0" y="0" textLength="186" lengthAdjust="spacingAndGlyphs">Concentration</text>
</g>
<g>
<text class="t" x="68.2" y="1951" textLength="243.2" lengthAdjust="spacing">(g) Chromium</text>
<path d="M191.2 2367.9V2222.5H237.4V2367.9" fill="none" stroke="#FF0000" stroke-width="5.8"/>
<line x1="188.3" y1="2370.5" x2="240.3" y2="2370.5" stroke="#FF0000" stroke-opacity="0.12" stroke-width="2.4"/>
<path d="M307.7 2367.9V2323H353.9V2367.9" fill="none" stroke="#00B0F0" stroke-width="5.8"/>
<line x1="304.8" y1="2370.5" x2="356.8" y2="2370.5" stroke="#00B0F0" stroke-opacity="0.12" stroke-width="2.4"/>
<path d="M424 2367.9V2222.5H469.9V2367.9" fill="none" stroke="#0070C0" stroke-width="5.8"/>
<line x1="421.1" y1="2370.5" x2="472.8" y2="2370.5" stroke="#0070C0" stroke-opacity="0.12" stroke-width="2.4"/>
<path d="M540.3 2367.9V2342.1H583.7V2367.9" fill="none" stroke="#6DD13F" stroke-width="5.8"/>
<line x1="537.4" y1="2370.5" x2="586.6" y2="2370.5" stroke="#6DD13F" stroke-opacity="0.12" stroke-width="2.4"/>
<path d="M656.4 2367.9V2103.2H699.6V2367.9" fill="none" stroke="#001B66" stroke-width="5.8"/>
<line x1="653.5" y1="2370.5" x2="702.5" y2="2370.5" stroke="#001B66" stroke-opacity="0.12" stroke-width="2.4"/>
<path d="M773.1 2367.9V2314.8H816.1V2367.9" fill="none" stroke="#7D2CA6" stroke-width="5.8"/>
<line x1="770.2" y1="2370.5" x2="819" y2="2370.5" stroke="#7D2CA6" stroke-opacity="0.12" stroke-width="2.4"/>
<path d="M889.4 2367.9V2326.3H932.4V2367.9" fill="none" stroke="#1B73CB" stroke-width="5.8"/>
<line x1="886.5" y1="2370.5" x2="935.3" y2="2370.5" stroke="#1B73CB" stroke-opacity="0.12" stroke-width="2.4"/>
<path d="M1005.7 2367.9V2293.7H1048.7V2367.9" fill="none" stroke="#1B73CB" stroke-width="5.8"/>
<line x1="1002.8" y1="2370.5" x2="1051.6" y2="2370.5" stroke="#1B73CB" stroke-opacity="0.12" stroke-width="2.4"/>
<path d="M156.6 2041V2367.9H1085.2" fill="none" stroke="#000" stroke-width="2.7"/>
<rect x="212.8" y="2215.7" width="3" height="13.8" fill="#868686"/>
<rect x="201.8" y="2215.7" width="25" height="3" fill="#868686"/>
<rect x="201.8" y="2226.5" width="25" height="3" fill="#868686"/>
<rect x="318.3" y="2318.5" width="25" height="9.2" fill="#868686"/>
<rect x="445.5" y="2215.7" width="3" height="15.3" fill="#868686"/>
<rect x="434.5" y="2215.7" width="25" height="3" fill="#868686"/>
<rect x="434.5" y="2226" width="25" height="5" fill="#868686"/>
<rect x="549.5" y="2339.9" width="25" height="4.9" fill="#868686"/>
<rect x="675.2" y="2087.8" width="5.5" height="29.7" fill="#868686"/>
<rect x="665.5" y="2087.8" width="25" height="5" fill="#868686"/>
<rect x="665.5" y="2114.5" width="25" height="3" fill="#868686"/>
<rect x="782.1" y="2312.9" width="25" height="7.2" fill="#868686"/>
<rect x="898.4" y="2324.4" width="25" height="6.2" fill="#868686"/>
<rect x="1014.7" y="2288.8" width="25" height="9.2" fill="#868686"/>
<text class="k K" x="121.8" y="2375.8" textLength="16.1" lengthAdjust="spacingAndGlyphs">0</text>
<text class="k K" x="121.8" y="2329.1" textLength="32.2" lengthAdjust="spacingAndGlyphs">10</text>
<text class="k K" x="121.8" y="2282.3" textLength="32.2" lengthAdjust="spacingAndGlyphs">20</text>
<text class="k K" x="121.8" y="2235.7" textLength="32.2" lengthAdjust="spacingAndGlyphs">30</text>
<text class="k K" x="121.8" y="2188.9" textLength="32.2" lengthAdjust="spacingAndGlyphs">40</text>
<text class="k K" x="121.8" y="2142.2" textLength="32.2" lengthAdjust="spacingAndGlyphs">50</text>
<text class="k K" x="121.8" y="2095.5" textLength="32.2" lengthAdjust="spacingAndGlyphs">60</text>
<text class="k K" x="121.8" y="2048.8" textLength="32.2" lengthAdjust="spacingAndGlyphs">70</text>
<text class="x" x="214.3" y="2420.6" textLength="41" lengthAdjust="spacingAndGlyphs">D1</text>
<text class="x" x="330.8" y="2420.6" textLength="41" lengthAdjust="spacingAndGlyphs">D2</text>
<text class="x" x="447" y="2420.6" textLength="41" lengthAdjust="spacingAndGlyphs">D3</text>
<text class="x" x="562" y="2420.6" textLength="41" lengthAdjust="spacingAndGlyphs">D4</text>
<text class="x" x="678" y="2420.6" textLength="41" lengthAdjust="spacingAndGlyphs">D5</text>
<text class="x" x="794.6" y="2420.6" textLength="41" lengthAdjust="spacingAndGlyphs">D6</text>
<text class="x" x="910.9" y="2420.6" textLength="41" lengthAdjust="spacingAndGlyphs">D7</text>
<text class="x" x="1027.2" y="2420.6" textLength="41" lengthAdjust="spacingAndGlyphs">D8</text>
<text class="a" x="515.8" y="2475" textLength="211.5" lengthAdjust="spacingAndGlyphs">Sampling sites</text>
<text class="r" text-anchor="middle" transform="translate(62.5 2204) rotate(-90)" x="0" y="0" textLength="186" lengthAdjust="spacingAndGlyphs">Concentration</text>
</g>
</svg></body></html>
